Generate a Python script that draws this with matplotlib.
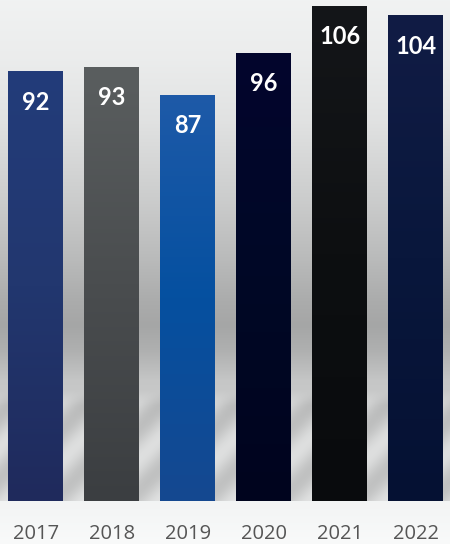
import numpy as np
import matplotlib
matplotlib.use("Agg")
import matplotlib.pyplot as plt
from matplotlib.colors import LinearSegmentedColormap

# ---- data ----
years = ["2017", "2018", "2019", "2020", "2021", "2022"]
values = [92, 93, 87, 96, 106, 104]

# ---- styles: (top, middle, bottom) colours of each bar ----
bar_colors = [
    ("#233c7a", "#22376f", "#1f2a5c"),
    ("#5a5e5f", "#4a4d4f", "#3b3e41"),
    ("#1e5aa8", "#0550a0", "#154890"),
    ("#03052d", "#000826", "#00041e"),
    ("#141619", "#0d0f11", "#090b0d"),
    ("#111c45", "#09173c", "#051133"),
]

W, H = 450, 544
fig = plt.figure(figsize=(W / 100, H / 100), dpi=100)

# ---- background gradient with diagonal streaks ----
ax_bg = fig.add_axes([0, 0, 1, 1], zorder=0)
yy, xx = np.mgrid[0:H, 0:W].astype(float)
stops_y = [0, 60, 120, 200, 260, 300, 325, 350, 380, 420, 500, 501, 544]
stops_v = [242, 236, 226, 204, 186, 172, 166, 176, 198, 206, 210, 244, 250]
base = np.interp(yy, stops_y, stops_v) / 255.0
gap = 75.6
dx = ((xx - 75 + gap / 2) % gap) - gap / 2
phase = (yy + dx - 415) / 63.0
env = np.clip((yy - 390) / 15.0, 0, 1) * (yy < 501)
streak = -0.06 * np.cos(2 * np.pi * phase) * env
img = np.clip(base + streak, 0, 1)
rgb = np.dstack([img * 0.995, img, img])
ax_bg.imshow(rgb, extent=(0, W, H, 0), aspect="auto", interpolation="bilinear")
ax_bg.set_axis_off()

# ---- main axes ----
ax = fig.add_axes([0, 43 / H, 1, 501 / H], zorder=1)
ax.patch.set_alpha(0)
x = np.arange(len(years))
bars = ax.bar(x, values, width=0.72, color="none", edgecolor="none")
for b, (ct, cm, cb) in zip(bars, bar_colors):
    cmap = LinearSegmentedColormap.from_list("g", [ct, cm, cb])
    grad = np.linspace(0, 1, 256).reshape(-1, 1)
    bx, bw, bh = b.get_x(), b.get_width(), b.get_height()
    im = ax.imshow(grad, cmap=cmap, aspect="auto", origin="upper",
                   extent=(bx, bx + bw, 0, bh), zorder=2)
    im.set_clip_path(b)

for xi, v in zip(x, values):
    ax.text(xi, v - 6.6, str(v), ha="center", va="center", color="white",
            fontsize=17, fontweight="bold", family="Lato", zorder=3)

ax.set_xlim(-0.47, 5.45)
ax.set_ylim(0, 107.3)
ax.set_yticks([])
ax.set_xticks(x)
ax.set_xticklabels(years, fontsize=14.5, color="#555555", family="Open Sans")
ax.tick_params(axis="x", length=0, pad=16.5)
for s in ax.spines.values():
    s.set_visible(False)

fig.savefig("out.png", dpi=100)
